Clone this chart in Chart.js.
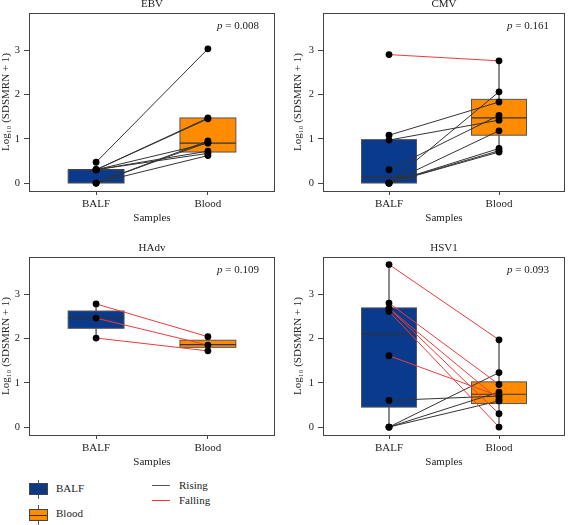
<!DOCTYPE html>
<html>
<head>
<meta charset="utf-8">
<script src="https://cdn.jsdelivr.net/npm/chart.js@4.4.1/dist/chart.umd.min.js"></script>
<style>
  body { margin: 0; background: #fff; width: 569px; height: 525px; position: relative; overflow: hidden; font-family: "Liberation Serif", serif; color: #222; }
  canvas { position: absolute; }
  .lg { position: absolute; font-size: 11px; line-height: 12px; }
  .icon { position: absolute; width: 19px; height: 12px; box-sizing: border-box; border: 1px solid #444; }
  .icon .med { position: absolute; left: 0; right: 0; top: 5px; height: 1px; background: #333; }
  .wh { position: absolute; width: 1px; background: #555; }
  .ln { position: absolute; width: 18px; height: 1px; }
</style>
</head>
<body>
<canvas id="c0" width="284" height="230" style="left:0;top:0"></canvas>
<canvas id="c1" width="285" height="230" style="left:284px;top:0"></canvas>
<canvas id="c2" width="284" height="230" style="left:0;top:244px"></canvas>
<canvas id="c3" width="285" height="230" style="left:284px;top:244px"></canvas>

<!-- legend -->
<div class="wh" style="left:38px;top:480px;height:19px"></div>
<div class="icon" style="left:29px;top:483px;background:#0a3a8c"><div class="med"></div></div>
<div class="lg" style="left:56px;top:482px">BALF</div>
<div class="wh" style="left:38px;top:505px;height:20px"></div>
<div class="icon" style="left:29px;top:509px;background:#ff8c00"><div class="med"></div></div>
<div class="lg" style="left:56px;top:507px">Blood</div>
<div class="ln" style="left:152px;top:485px;background:#555"></div>
<div class="lg" style="left:179px;top:479px">Rising</div>
<div class="ln" style="left:152px;top:500px;background:#f03a3a"></div>
<div class="lg" style="left:179px;top:494px">Falling</div>

<script>
// Categories
const sampleLabels = ["BALF", "Blood"];
const virusNames = ["EBV", "CMV", "HAdv", "HSV1"];
const pValues = ["0.008", "0.161", "0.109", "0.093"];
const yTicks = [0, 1, 2, 3];

// Paired values, log10(SDSMRN + 1): BALF[i] -> Blood[i]
const ebvBalf = [0.47, 0.30, 0.30, 0.00, 0.00, 0.30, 0.30, 0.30, 0.00];
const ebvBlood = [3.03, 1.47, 1.45, 0.95, 0.92, 0.90, 0.72, 0.67, 0.62];
const cmvBalf = [2.90, 1.08, 0.97, 0.30, 0.00, 0.00, 0.00, 0.00, 0.00];
const cmvBlood = [2.76, 1.83, 1.42, 1.53, 2.06, 1.18, 0.78, 0.73, 0.70];
const hadvBalf = [2.78, 2.46, 2.01];
const hadvBlood = [2.04, 1.85, 1.72];
const hsvBalf = [3.67, 2.80, 2.68, 2.61, 2.68, 1.61, 0.60, 0.00, 0.00, 0.00];
const hsvBlood = [1.97, 0.96, 0.30, 0.00, 0.62, 0.70, 0.70, 1.23, 0.79, 0.59];

// Box stats: [whisker low, q1, median, q3, whisker high]
const ebvBoxes = [[0.00, 0.00, 0.30, 0.30, 0.47], [0.62, 0.70, 0.90, 1.47, 1.47]];
const cmvBoxes = [[0.00, 0.00, 0.14, 0.98, 1.08], [0.70, 1.08, 1.47, 1.89, 2.76]];
const hadvBoxes = [[2.01, 2.23, 2.46, 2.62, 2.78], [1.72, 1.80, 1.86, 1.96, 2.04]];
const hsvBoxes = [[0.00, 0.45, 2.10, 2.69, 3.67], [0.00, 0.53, 0.74, 1.02, 1.97]];

const boxColors = ["#0a3a8c", "#ff8c00"];
const risingColor = "#333";
const fallingColor = "#f03a3a";
const boxHalf = 0.25;
const serif = "'Liberation Serif', 'DejaVu Serif', serif";

// boxes, whiskers, frame, title and p value
const boxPlugin = {
  id: "boxPairs",
  beforeDatasetsDraw(chart, args, opts) {
    const ctx = chart.ctx, xs = chart.scales.x, ys = chart.scales.y;
    ctx.save();
    opts.boxes.forEach((b, i) => {
      const cx = xs.getPixelForValue(i);
      const l = xs.getPixelForValue(i - boxHalf), r = xs.getPixelForValue(i + boxHalf);
      const top = ys.getPixelForValue(b[3]), bot = ys.getPixelForValue(b[1]);
      ctx.strokeStyle = "#666";
      ctx.lineWidth = 1.5;
      ctx.beginPath();
      ctx.moveTo(cx, ys.getPixelForValue(b[0]));
      ctx.lineTo(cx, bot);
      ctx.moveTo(cx, top);
      ctx.lineTo(cx, ys.getPixelForValue(b[4]));
      ctx.stroke();
      ctx.fillStyle = boxColors[i];
      ctx.fillRect(l, top, r - l, bot - top);
      ctx.strokeStyle = "#555";
      ctx.lineWidth = 1;
      ctx.strokeRect(l, top, r - l, bot - top);
      const m = ys.getPixelForValue(b[2]);
      ctx.strokeStyle = "#333";
      ctx.lineWidth = 1.2;
      ctx.beginPath();
      ctx.moveTo(l, m);
      ctx.lineTo(r, m);
      ctx.stroke();
    });
    ctx.restore();
  },
  afterDraw(chart, args, opts) {
    const ctx = chart.ctx, a = chart.chartArea;
    ctx.save();
    ctx.strokeStyle = "#444";
    ctx.lineWidth = 1;
    ctx.strokeRect(a.left + 0.5, a.top + 0.5, a.right - a.left - 1, a.bottom - a.top);
    ctx.fillStyle = "#222";
    ctx.textBaseline = "middle";
    ctx.font = "11px " + serif;
    ctx.textAlign = "center";
    ctx.fillText(opts.title, (a.left + a.right) / 2, a.top - 9);
    // p value, italic p
    const rest = " = " + opts.p;
    ctx.textAlign = "left";
    const wRest = ctx.measureText(rest).width;
    ctx.font = "italic 11px " + serif;
    const wP = ctx.measureText("p").width;
    const x0 = a.right - 16 - wRest - wP;
    ctx.fillText("p", x0, a.top + 13);
    ctx.font = "11px " + serif;
    ctx.fillText(rest, x0 + wP, a.top + 13);
    ctx.restore();
  },
};

function makePanel(id, idx, balf, blood, boxes, left) {
  const datasets = [];
  const pts = [];
  balf.forEach((v, i) => {
    pts.push({ x: 0, y: v }, { x: 1, y: blood[i] });
  });
  datasets.push({
    type: "scatter",
    data: pts,
    backgroundColor: "#000",
    borderWidth: 0,
    pointRadius: 3.4,
    order: 0,
  });
  balf.forEach((v, i) => {
    datasets.push({
      type: "scatter",
      data: [{ x: 0, y: v }, { x: 1, y: blood[i] }],
      showLine: true,
      borderColor: blood[i] >= v ? risingColor : fallingColor,
      borderWidth: 1,
      pointRadius: 0,
      order: 1,
    });
  });

  new Chart(document.getElementById(id), {
    type: "scatter",
    data: { datasets: datasets },
    options: {
      responsive: false,
      animation: false,
      events: [],
      layout: { padding: { top: 13, right: left ? 9 : 1, left: left ? 0 : 8, bottom: 0 } },
      plugins: {
        legend: { display: false },
        tooltip: { enabled: false },
        boxPairs: { boxes: boxes, title: virusNames[idx], p: pValues[idx] },
      },
      scales: {
        x: {
          type: "linear",
          min: -0.6,
          max: 1.6,
          afterBuildTicks: (s) => { s.ticks = [{ value: 0 }, { value: 1 }]; },
          afterFit: (s) => { s.height = 39; },
          border: { display: false },
          grid: { drawOnChartArea: false, tickLength: 4, color: "#444" },
          ticks: {
            padding: 3,
            color: "#222",
            font: { family: serif, size: 11 },
            callback: (v) => sampleLabels[v],
          },
          title: {
            display: true,
            text: "Samples",
            color: "#222",
            font: { family: serif, size: 11 },
            padding: { top: 0, bottom: 5 },
          },
        },
        y: {
          min: -0.18,
          max: 3.84,
          afterBuildTicks: (s) => { s.ticks = yTicks.map((v) => ({ value: v })); },
          afterFit: (s) => { s.width = left ? 29 : 31; },
          border: { display: false },
          grid: { drawOnChartArea: false, tickLength: 5, color: "#444" },
          ticks: {
            padding: 4,
            color: "#222",
            font: { family: serif, size: 10.5 },
          },
          title: {
            display: true,
            text: "Log₁₀ (SDSMRN + 1)",
            color: "#222",
            font: { family: serif, size: 11 },
            padding: { top: 0, bottom: 0 },
          },
        },
      },
    },
    plugins: [boxPlugin],
  });
}

makePanel("c0", 0, ebvBalf, ebvBlood, ebvBoxes, true);
makePanel("c1", 1, cmvBalf, cmvBlood, cmvBoxes, false);
makePanel("c2", 2, hadvBalf, hadvBlood, hadvBoxes, true);
makePanel("c3", 3, hsvBalf, hsvBlood, hsvBoxes, false);
</script>
</body>
</html>
